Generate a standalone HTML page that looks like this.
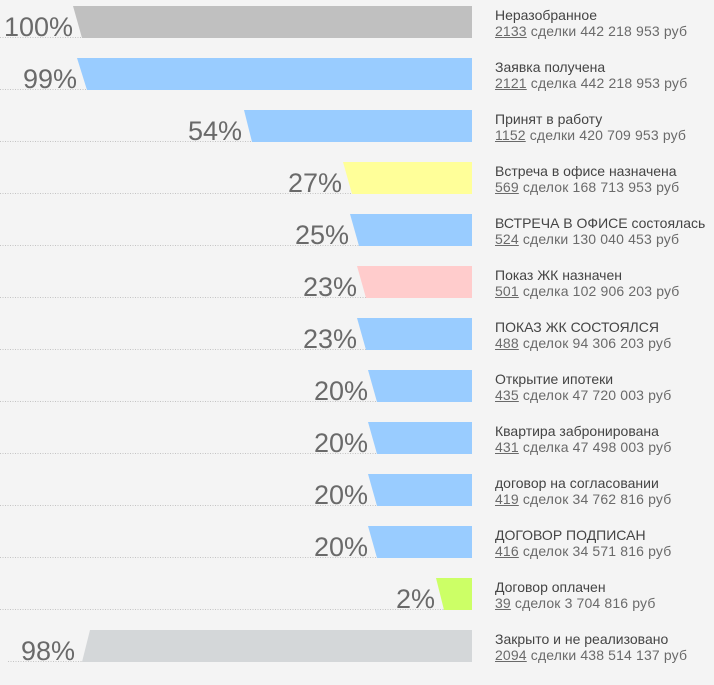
<!DOCTYPE html>
<html><head><meta charset="utf-8">
<style>
html,body{margin:0;padding:0;background:#f4f4f4;}
body{width:714px;height:685px;position:relative;overflow:hidden;font-family:"Liberation Sans","DejaVu Sans",sans-serif;}
svg{position:absolute;left:0;top:0;}
.pct{font-family:"Liberation Sans",sans-serif;font-size:27px;fill:#6a6a6a;}
.lb{position:absolute;left:495px;font-size:14px;line-height:16px;white-space:nowrap;}
.lb .t{color:#444;}
.lb .s{color:#6a6a6a;letter-spacing:0.15px;}
.lb u{text-decoration:underline;}
</style></head><body>
<svg width="714" height="685" viewBox="0 0 714 685">
<g stroke="#c4c4c4" stroke-width="1" stroke-dasharray="1,1.5">
<line x1="0" y1="37.5" x2="82" y2="37.5"/>
<line x1="0" y1="89.5" x2="87" y2="89.5"/>
<line x1="0" y1="141.5" x2="252" y2="141.5"/>
<line x1="0" y1="193.5" x2="352" y2="193.5"/>
<line x1="0" y1="245.5" x2="359" y2="245.5"/>
<line x1="0" y1="297.5" x2="366" y2="297.5"/>
<line x1="0" y1="349.5" x2="366" y2="349.5"/>
<line x1="0" y1="401.5" x2="377" y2="401.5"/>
<line x1="0" y1="453.5" x2="377" y2="453.5"/>
<line x1="0" y1="505.5" x2="377" y2="505.5"/>
<line x1="0" y1="557.5" x2="377" y2="557.5"/>
<line x1="0" y1="609.5" x2="444" y2="609.5"/>
<line x1="8" y1="661.5" x2="82" y2="661.5"/>
</g>
<polygon points="73,6 472,6 472,38 82,38" fill="#c0c0c0"/>
<polygon points="77,58 472,58 472,90 87,90" fill="#99ccff"/>
<polygon points="244,110 472,110 472,142 252,142" fill="#99ccff"/>
<polygon points="343,162 472,162 472,194 352,194" fill="#ffff99"/>
<polygon points="350,214 472,214 472,246 359,246" fill="#99ccff"/>
<polygon points="357,266 472,266 472,298 366,298" fill="#ffcccc"/>
<polygon points="357,318 472,318 472,350 366,350" fill="#99ccff"/>
<polygon points="368,370 472,370 472,402 377,402" fill="#99ccff"/>
<polygon points="368,422 472,422 472,454 377,454" fill="#99ccff"/>
<polygon points="368,474 472,474 472,506 377,506" fill="#99ccff"/>
<polygon points="368,526 472,526 472,558 377,558" fill="#99ccff"/>
<polygon points="436,578 472,578 472,610 444,610" fill="#ccff66"/>
<polygon points="90,630 472,630 472,662 82,662" fill="#d4d7d9"/>
<g class="pct" text-anchor="end">
<text x="73" y="36">100%</text>
<text x="77" y="88">99%</text>
<text x="242" y="140">54%</text>
<text x="342" y="192">27%</text>
<text x="349" y="244">25%</text>
<text x="357" y="296">23%</text>
<text x="357" y="348">23%</text>
<text x="368" y="400">20%</text>
<text x="368" y="452">20%</text>
<text x="368" y="504">20%</text>
<text x="368" y="556">20%</text>
<text x="435" y="608">2%</text>
<text x="75" y="660">98%</text>
</g>
</svg>
<div class="lb" style="top:7px"><div class="t">Неразобранное</div><div class="s"><u>2133</u> сделки 442 218 953 руб</div></div>
<div class="lb" style="top:59px"><div class="t">Заявка получена</div><div class="s"><u>2121</u> сделка 442 218 953 руб</div></div>
<div class="lb" style="top:111px"><div class="t">Принят в работу</div><div class="s"><u>1152</u> сделки 420 709 953 руб</div></div>
<div class="lb" style="top:163px"><div class="t">Встреча в офисе назначена</div><div class="s"><u>569</u> сделок 168 713 953 руб</div></div>
<div class="lb" style="top:215px"><div class="t">ВСТРЕЧА В ОФИСЕ состоялась</div><div class="s"><u>524</u> сделки 130 040 453 руб</div></div>
<div class="lb" style="top:267px"><div class="t">Показ ЖК назначен</div><div class="s"><u>501</u> сделка 102 906 203 руб</div></div>
<div class="lb" style="top:319px"><div class="t">ПОКАЗ ЖК СОСТОЯЛСЯ</div><div class="s"><u>488</u> сделок 94 306 203 руб</div></div>
<div class="lb" style="top:371px"><div class="t">Открытие ипотеки</div><div class="s"><u>435</u> сделок 47 720 003 руб</div></div>
<div class="lb" style="top:423px"><div class="t">Квартира забронирована</div><div class="s"><u>431</u> сделка 47 498 003 руб</div></div>
<div class="lb" style="top:475px"><div class="t">договор на согласовании</div><div class="s"><u>419</u> сделок 34 762 816 руб</div></div>
<div class="lb" style="top:527px"><div class="t">ДОГОВОР ПОДПИСАН</div><div class="s"><u>416</u> сделок 34 571 816 руб</div></div>
<div class="lb" style="top:579px"><div class="t">Договор оплачен</div><div class="s"><u>39</u> сделок 3 704 816 руб</div></div>
<div class="lb" style="top:631px"><div class="t">Закрыто и не реализовано</div><div class="s"><u>2094</u> сделки 438 514 137 руб</div></div>
</body></html>
